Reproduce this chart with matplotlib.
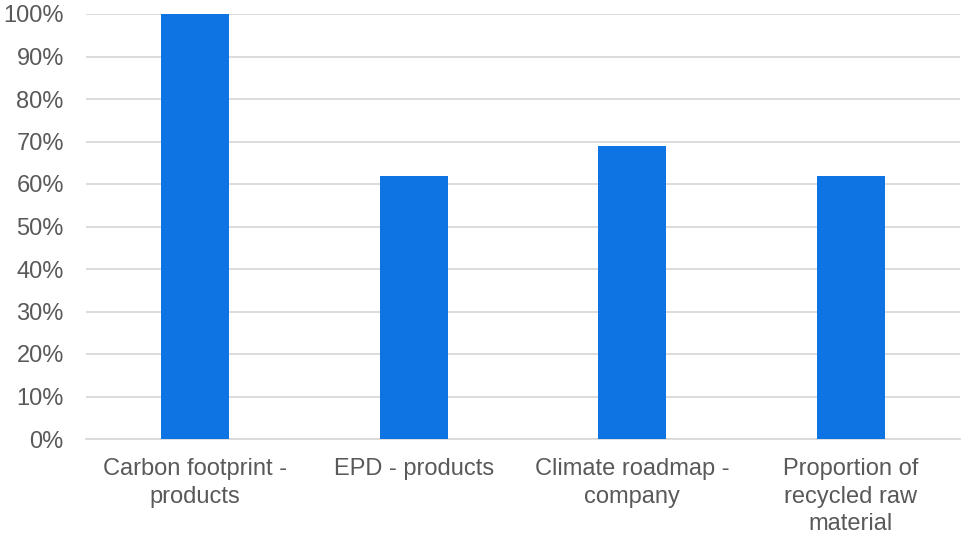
import matplotlib
matplotlib.use("Agg")
import matplotlib.pyplot as plt
from matplotlib.ticker import FuncFormatter, MultipleLocator

categories = ["Carbon footprint -\nproducts", "EPD - products",
              "Climate roadmap -\ncompany", "Proportion of\nrecycled raw\nmaterial"]
values = [100, 62, 69, 62]

plt.rcParams['font.family'] = ['Liberation Sans', 'DejaVu Sans']
text_color = "#595959"

fig = plt.figure(figsize=(9.61, 5.33), dpi=100)
ax = fig.add_axes([86 / 961, 1 - 439 / 533, (960 - 86) / 961, (439 - 14) / 533])

x = range(len(categories))
ax.bar(x, values, width=0.31, color="#0E74E3", zorder=3)

ax.set_xlim(-0.5, len(categories) - 0.5)
ax.set_ylim(0, 100)
ax.yaxis.set_major_locator(MultipleLocator(10))
ax.yaxis.set_major_formatter(FuncFormatter(lambda v, p: f"{v:.0f}%"))
ax.grid(axis="y", color="#D9D9D9", linewidth=1.3, zorder=0)
ax.set_axisbelow(True)

for s in ["top", "right", "left"]:
    ax.spines[s].set_visible(False)
ax.spines["bottom"].set_color("#D9D9D9")
ax.spines["bottom"].set_linewidth(1.3)

ax.set_xticks(list(x))
ax.set_xticklabels(categories, linespacing=1.3)
ax.tick_params(axis="both", length=0, labelsize=17, colors=text_color, labelcolor=text_color)
ax.tick_params(axis="x", pad=14)
ax.tick_params(axis="y", pad=16)

fig.savefig("out.png", dpi=100)
